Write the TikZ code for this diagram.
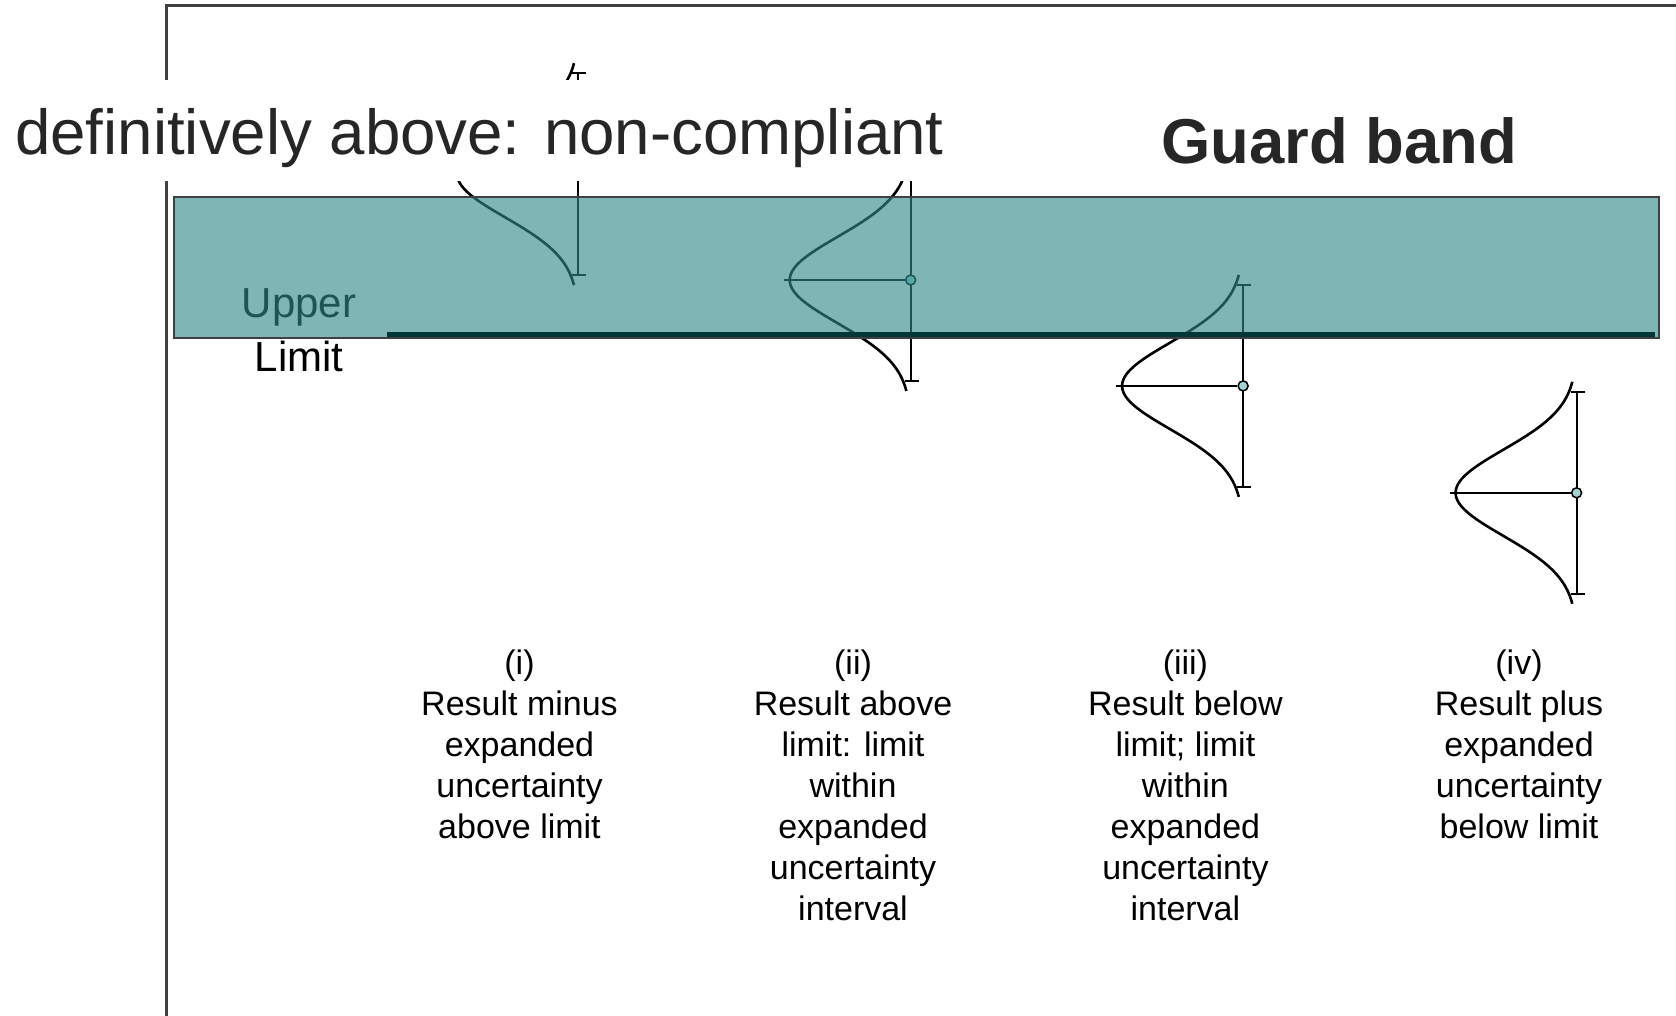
\documentclass[tikz,border=0pt]{standalone}
\usepackage{fontspec}
\setmainfont{Liberation Sans}
\definecolor{frameg}{RGB}{64,64,64}
\definecolor{tealc}{RGB}{50,137,137}
\definecolor{limitc}{RGB}{0,56,56}
\definecolor{circc}{RGB}{165,210,210}
\definecolor{textg}{RGB}{38,38,38}
\tikzset{
  bellcurve/.style={line width=2.6pt, black},
  thinln/.style={line width=1.8pt, black},
  dotc/.style={circle, draw=black, line width=1.5pt, fill=circc, inner sep=0pt, minimum size=10pt},
  captxt/.style={font=\fontsize{34}{41}\selectfont, align=center, anchor=north, inner sep=0pt, text=black},
  lbltxt/.style={font=\fontsize{42}{50}\selectfont, anchor=base, inner sep=0pt, text=black},
  bigtxt/.style={font=\fontsize{63.6}{76}\selectfont, anchor=base west, inner sep=0pt, text=textg},
}
\newcommand\bellshape[3]{%
  \coordinate (#1top) at (#2,#3-101);
  \coordinate (#1bot) at (#2,#3+101);
  \coordinate (#1peak) at (#2-127,#3);
  \draw[bellcurve] plot[domain=-111:111, samples=90, smooth] ({#2-121*exp(-(\x)*(\x)/3700)},{#3+\x});
  \draw[thinln] (#1top) -- (#1bot);
  \draw[thinln] ([xshift=-6pt]#1top) -- ([xshift=8pt]#1top);
  \draw[thinln] ([xshift=-6pt]#1bot) -- ([xshift=8pt]#1bot);
  \node[dotc] (#1dot) at (#2,#3) {};
  \draw[thinln] (#1peak) -- (#1dot);
}
\begin{document}
\begin{tikzpicture}[x=1pt,y=-1pt]
\useasboundingbox (0,0) rectangle (1676,1016);
\fill[white] (0,0) rectangle (1676,1016);
% frame
\draw[frameg, line width=2.5pt] (166.5,1016) -- (166.5,5.5) -- (1676,5.5);
% bells
\bellshape{b1}{578.3}{174.2}
\bellshape{b2}{910.7}{280}
\bellshape{b3}{1243.1}{385.9}
\bellshape{b4}{1576.6}{492.8}
% upper limit labels
\node[lbltxt] (upper) at (299,317.5) {Upper};
\node[lbltxt] (limit) at (299,371) {Limit};
% guard band overlay
\fill[tealc, fill opacity=0.62] (174,197) rectangle (1659,338);
\draw[frameg, line width=2pt] (174,197) rectangle (1659,338);
\draw[limitc, line width=5pt] (387,334.5) -- (1655,334.5);
% top texts
\fill[white] (0,80) rectangle (952,181);
\node[bigtxt] (defab) at (15,155) {definitively above: non-compliant};
\node[bigtxt, font=\bfseries\fontsize{63.4}{76}\selectfont] (guard) at (1161,163.5) {Guard band};
% captions
\node[captxt] (c1) at (519.5,650) {(i)\\Result minus\\expanded\\uncertainty\\above limit};
\node[captxt] (c2) at (853,650) {(ii)\\Result above\\limit: limit\\within\\expanded\\uncertainty\\interval};
\node[captxt] (c3) at (1185.4,650) {(iii)\\Result below\\limit; limit\\within\\expanded\\uncertainty\\interval};
\node[captxt] (c4) at (1519,650) {(iv)\\Result plus\\expanded\\uncertainty\\below limit};
\end{tikzpicture}
\end{document}
